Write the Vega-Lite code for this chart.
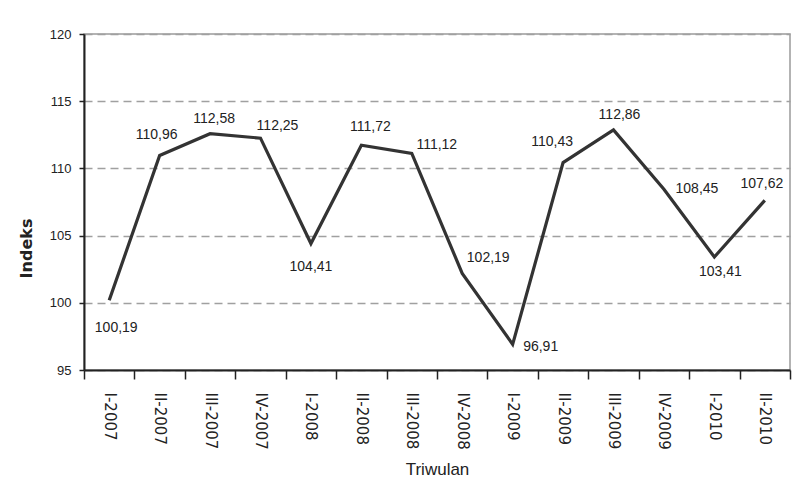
{
  "$schema": "https://vega.github.io/schema/vega-lite/v6.json",
  "width": 706,
  "height": 336,
  "autosize": {"type": "none"},
  "padding": {"left": 84, "top": 34, "right": 8, "bottom": 117},
  "background": "white",
  "config": {
    "locale": {"number": {"decimal": ",", "thousands": ".", "grouping": [3], "currency": ["", ""]}},
    "view": {"stroke": "#9a9a9a", "strokeWidth": 1.5},
    "text": {"font": "Liberation Sans", "fontSize": 14, "color": "#222222", "align": "center", "baseline": "middle"}
  },
  "data": {"values": [
    {"q": "I-2007", "v": 100.19},
    {"q": "II-2007", "v": 110.96},
    {"q": "III-2007", "v": 112.58},
    {"q": "IV-2007", "v": 112.25},
    {"q": "I-2008", "v": 104.41},
    {"q": "II-2008", "v": 111.72},
    {"q": "III-2008", "v": 111.12},
    {"q": "IV-2008", "v": 102.19},
    {"q": "I-2009", "v": 96.91},
    {"q": "II-2009", "v": 110.43},
    {"q": "III-2009", "v": 112.86},
    {"q": "IV-2009", "v": 108.45},
    {"q": "I-2010", "v": 103.41},
    {"q": "II-2010", "v": 107.62}
  ]},
  "encoding": {
    "x": {
      "field": "q", "type": "nominal", "sort": null,
      "scale": {"type": "band", "paddingInner": 0, "paddingOuter": 0},
      "axis": {
        "title": "Triwulan", "titleFont": "Liberation Sans", "titleFontSize": 17, "titleFontWeight": "normal", "titleColor": "#222222", "titlePadding": 12,
        "labelAngle": 90, "labelFont": "DejaVu Sans", "labelFontSize": 15, "labelColor": "#222222", "labelPadding": 13,
        "tickBand": "extent", "tickSize": 9, "tickColor": "#222222", "tickWidth": 1.5,
        "domainColor": "#222222", "domainWidth": 2, "grid": false
      }
    },
    "y": {
      "field": "v", "type": "quantitative",
      "scale": {"domain": [95, 120], "nice": false, "zero": false},
      "axis": {
        "title": "Indeks", "titleFont": "DejaVu Sans", "titleFontSize": 16, "titleFontWeight": "bold", "titleColor": "#222222", "titleY": 214, "titleX": -50, "titleAlign": "center", "titleAngle": -90,
        "values": [95, 100, 105, 110, 115, 120], "format": "d",
        "labelFont": "Liberation Sans", "labelFontSize": 13, "labelColor": "#222222", "labelPadding": 8,
        "tickSize": 5, "tickColor": "#222222", "tickWidth": 1.5,
        "domainColor": "#222222", "domainWidth": 2,
        "grid": true, "gridColor": "#a0a0a0", "gridDash": [8, 5], "gridWidth": 1.5
      }
    }
  },
  "layer": [
    {"mark": {"type": "line", "color": "#333333", "strokeWidth": 3.2, "strokeJoin": "miter"}},
    {"transform": [{"filter": "datum.q == 'I-2007'"}], "mark": {"type": "text", "dx": 7, "dy": 28}, "encoding": {"text": {"field": "v", "type": "quantitative", "format": ".2f"}}},
    {"transform": [{"filter": "datum.q == 'II-2007'"}], "mark": {"type": "text", "dx": -3, "dy": -20}, "encoding": {"text": {"field": "v", "type": "quantitative", "format": ".2f"}}},
    {"transform": [{"filter": "datum.q == 'III-2007'"}], "mark": {"type": "text", "dx": 4, "dy": -15}, "encoding": {"text": {"field": "v", "type": "quantitative", "format": ".2f"}}},
    {"transform": [{"filter": "datum.q == 'IV-2007'"}], "mark": {"type": "text", "dx": 17, "dy": -12}, "encoding": {"text": {"field": "v", "type": "quantitative", "format": ".2f"}}},
    {"transform": [{"filter": "datum.q == 'I-2008'"}], "mark": {"type": "text", "dx": 0, "dy": 23}, "encoding": {"text": {"field": "v", "type": "quantitative", "format": ".2f"}}},
    {"transform": [{"filter": "datum.q == 'II-2008'"}], "mark": {"type": "text", "dx": 9, "dy": -18}, "encoding": {"text": {"field": "v", "type": "quantitative", "format": ".2f"}}},
    {"transform": [{"filter": "datum.q == 'III-2008'"}], "mark": {"type": "text", "dx": 25, "dy": -8}, "encoding": {"text": {"field": "v", "type": "quantitative", "format": ".2f"}}},
    {"transform": [{"filter": "datum.q == 'IV-2008'"}], "mark": {"type": "text", "dx": 26, "dy": -15}, "encoding": {"text": {"field": "v", "type": "quantitative", "format": ".2f"}}},
    {"transform": [{"filter": "datum.q == 'I-2009'"}], "mark": {"type": "text", "dx": 28, "dy": 3}, "encoding": {"text": {"field": "v", "type": "quantitative", "format": ".2f"}}},
    {"transform": [{"filter": "datum.q == 'II-2009'"}], "mark": {"type": "text", "dx": -11, "dy": -21}, "encoding": {"text": {"field": "v", "type": "quantitative", "format": ".2f"}}},
    {"transform": [{"filter": "datum.q == 'III-2009'"}], "mark": {"type": "text", "dx": 6, "dy": -15}, "encoding": {"text": {"field": "v", "type": "quantitative", "format": ".2f"}}},
    {"transform": [{"filter": "datum.q == 'IV-2009'"}], "mark": {"type": "text", "dx": 33, "dy": 0}, "encoding": {"text": {"field": "v", "type": "quantitative", "format": ".2f"}}},
    {"transform": [{"filter": "datum.q == 'I-2010'"}], "mark": {"type": "text", "dx": 6, "dy": 15}, "encoding": {"text": {"field": "v", "type": "quantitative", "format": ".2f"}}},
    {"transform": [{"filter": "datum.q == 'II-2010'"}], "mark": {"type": "text", "dx": -3, "dy": -16}, "encoding": {"text": {"field": "v", "type": "quantitative", "format": ".2f"}}}
  ]
}
